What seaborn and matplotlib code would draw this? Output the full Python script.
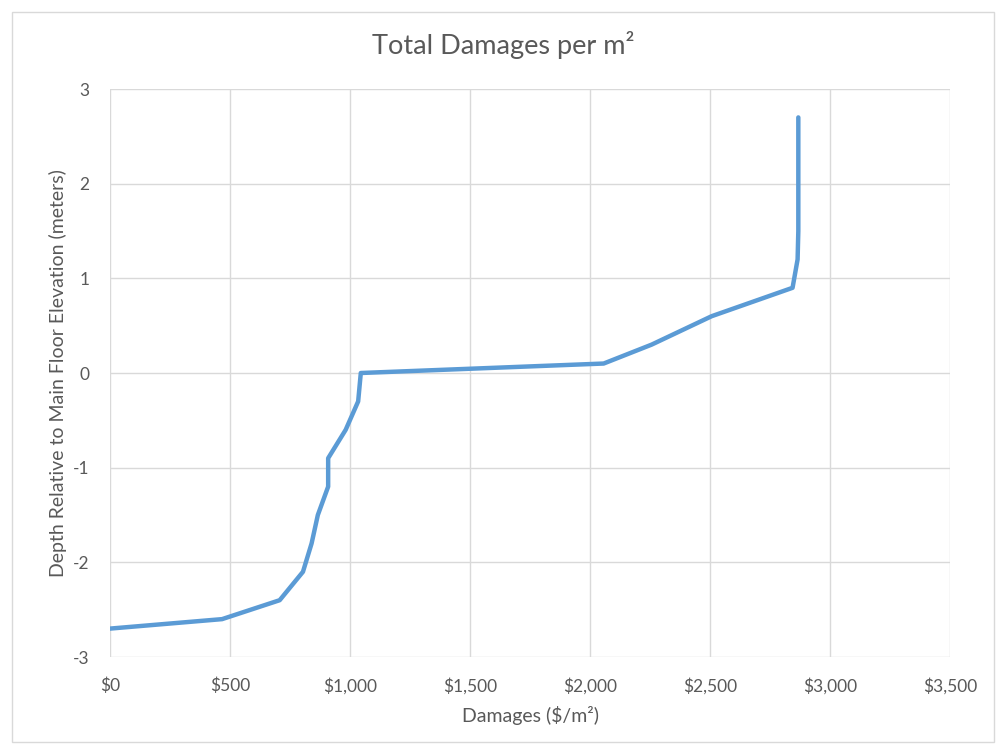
import numpy as np
import matplotlib.pyplot as plt
import matplotlib.ticker as mticker
import pandas as pd
import seaborn as sns

# depth relative to main floor (m) and total damages ($/m2)
depth = [-2.7, -2.6, -2.4, -2.1, -1.8, -1.5, -1.2, -0.9, -0.6, -0.3, 0.0,
         0.1, 0.3, 0.6, 0.9, 1.2, 1.5, 1.8, 2.1, 2.4, 2.7]
damages = [0, 467, 707, 804, 840, 866, 909, 909, 982, 1034, 1045,
           2057, 2257, 2507, 2844, 2865, 2868, 2868, 2868, 2868, 2868]
x_ticks = [0, 500, 1000, 1500, 2000, 2500, 3000, 3500]
y_ticks = [-3, -2, -1, 0, 1, 2, 3]

sns.set_style('white')
plt.rcParams['font.family'] = ['Lato', 'DejaVu Sans']
plt.rcParams['axes.unicode_minus'] = False
txt = '#595959'

fig = plt.figure(figsize=(10.06, 7.52), dpi=100)
ax = fig.add_axes([110 / 1006, 1 - 657 / 752, 840 / 1006, 568 / 752])

df = pd.DataFrame({'damages': damages, 'depth': depth})
sns.lineplot(data=df, x='damages', y='depth', sort=False, estimator=None,
             color='#5B9BD5', linewidth=3.2, ax=ax)

ax.set_xlim(0, 3500)
ax.set_ylim(-3, 3)
ax.set_xticks(x_ticks)
ax.set_yticks(y_ticks)
ax.xaxis.set_major_formatter(mticker.FuncFormatter(lambda v, p: '${:,.0f}'.format(v)))
ax.grid(True, color='#D9D9D9', linewidth=1.0)
ax.set_axisbelow(True)
for s in ax.spines.values():
    s.set_visible(False)
ax.tick_params(length=0, labelsize=12.5, colors=txt)
ax.tick_params(axis='x', pad=15)
ax.tick_params(axis='y', pad=15)

ax.set_xlabel('Damages ($/m²)', fontsize=14, color=txt, labelpad=8)
ax.set_ylabel('Depth Relative to Main Floor Elevation (meters)', fontsize=14,
              color=txt, labelpad=4)
fig.text(0.5, 1 - 45 / 752, 'Total Damages per m²', ha='center', va='center',
         fontsize=19.5, color=txt)

# chart area border
fig.add_artist(plt.Rectangle((12 / 1006, 10 / 752), 982 / 1006, 730 / 752,
                             transform=fig.transFigure, fill=False,
                             edgecolor='#D9D9D9', linewidth=1))

fig.savefig('out.png', dpi=100)
